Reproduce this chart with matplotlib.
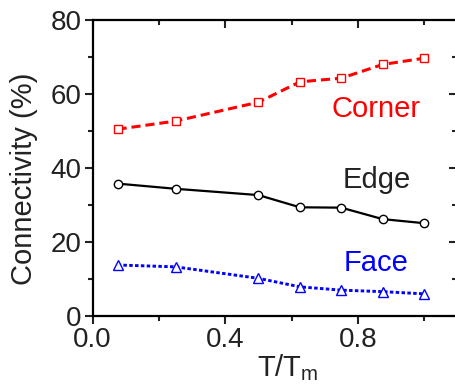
import numpy as np
from matplotlib import pyplot as plt
from matplotlib.ticker import MultipleLocator

# T/Tm values and connectivity (%) for each site type
t_ratio = [0.075, 0.25, 0.5, 0.625, 0.75, 0.875, 1.0]
corner = [50.4, 52.6, 57.7, 63.2, 64.2, 67.9, 69.6]
edge = [35.7, 34.3, 32.6, 29.3, 29.2, 26.1, 25.0]
face = [13.7, 13.2, 10.1, 7.8, 6.9, 6.5, 5.9]


def main():
    plt.rcParams['font.family'] = ['Liberation Sans', 'DejaVu Sans']
    plt.rcParams['mathtext.fontset'] = 'custom'
    plt.rcParams['mathtext.rm'] = 'Liberation Sans'

    fig = plt.figure(figsize=(4.55, 3.91), dpi=100)
    ax = fig.add_axes([0.2037, 0.1926, 0.8014, 0.757])

    ax.plot(t_ratio, corner, color='#ff0000', ls=(0, (3, 1.6)), lw=2.2,
            marker='s', ms=6, mfc='white', mec='#ff0000', mew=1.0)
    ax.plot(t_ratio, edge, color='black', ls='-', lw=1.6,
            marker='o', ms=6, mfc='white', mec='black', mew=1.0)
    ax.plot(t_ratio, face, color='#0000ff', ls=(0, (1.2, 0.8)), lw=2.1,
            marker='^', ms=7, mfc='white', mec='#0000ff', mew=1.0)

    ax.text(0.856, 56, 'Corner', color='#ff0000', fontsize=21, ha='center', va='center')
    ax.text(0.856, 36.7, 'Edge', color='#222222', fontsize=21, ha='center', va='center')
    ax.text(0.856, 14.2, 'Face', color='#0000ff', fontsize=21, ha='center', va='center')

    ax.set_xlim(0, 1.1)
    ax.set_ylim(0, 80)
    ax.xaxis.set_minor_locator(MultipleLocator(0.2))
    ax.yaxis.set_major_locator(MultipleLocator(20))
    ax.yaxis.set_minor_locator(MultipleLocator(10))
    ax.set_xticks([0.0, 0.4, 0.8])
    ax.set_xticklabels(['0.0', '0.4', '0.8'])

    for s in ax.spines.values():
        s.set_linewidth(1.6)
    ax.tick_params(which='both', direction='out', width=1.5, labelsize=20,
                   colors='#222222', pad=2, top=True, right=True)
    ax.tick_params(which='major', length=6)
    ax.tick_params(which='minor', length=3.5)

    # top/right ticks point inward
    for t in ax.xaxis.get_major_ticks() + ax.xaxis.get_minor_ticks():
        t.tick2line.set_marker(3)
    for t in ax.yaxis.get_major_ticks() + ax.yaxis.get_minor_ticks():
        t.tick2line.set_marker(0)

    fig.text(24 / 455, 1 - 179 / 391, 'Connectivity (%)', rotation=90,
             fontsize=21, color='#222222', ha='center', va='center')
    fig.text(288 / 455, 1 - 376 / 391, 'T/T$_\\mathregular{m}$',
             fontsize=21, color='#222222', ha='center', va='baseline')

    fig.savefig('out.png', dpi=100)


if __name__ == "__main__":
    main()
